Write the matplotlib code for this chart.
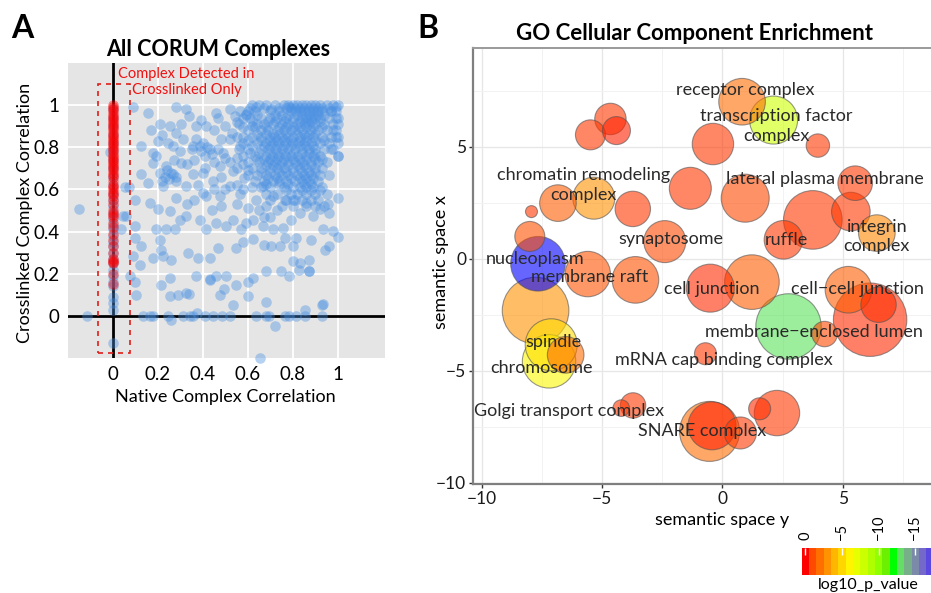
import numpy as np
import matplotlib.pyplot as plt
from matplotlib.colors import LinearSegmentedColormap, Normalize
from matplotlib.patches import Rectangle

plt.rcParams['font.family'] = ['Lato', 'DejaVu Sans']

# ---- panel A: complex correlations ----
# complexes seen in both native and crosslinked runs (native r, crosslinked r)
both_pts = [
    (-0.15, 0.505), (-0.115, 0.0), (0.133, 0.0), (0.163, 0.0), (0.178, 0.0), (0.244, 0.0),
    (0.26, -0.02), (0.311, 0.0), (0.344, 0.0), (0.356, 0.0), (0.375, 0.013), (0.41, 0.0),
    (0.444, 0.0), (0.486, 0.0), (0.519, 0.0), (0.637, 0.0), (0.681, 0.0), (0.693, 0.0),
    (0.763, 0.0), (0.782, 0.0), (0.815, 0.0), (0.856, 0.03), (0.856, 0.0), (0.93, 0.0),
    (0.719, -0.048), (0.655, -0.2), (0.93, 0.052), (0.935, 0.055), (0.533, 0.052),
    (0.681, 0.068), (0.252, 0.092), (0.289, 0.1), (0.326, 0.108), (0.34, 0.105),
    (0.104, 0.097), (0.474, 0.1), (0.6, 0.095), (0.496, 0.127), (0.43, 0.175), (0.432, 0.172),
    (0.548, 0.148), (0.215, 0.148), (0.252, 0.18), (0.37, 0.187), (0.459, 0.19), (0.504, 0.187),
    (0.6, 0.163), (0.622, 0.18), (0.681, 0.211), (0.748, 0.211), (0.785, 0.187), (0.827, 0.216),
    (0.874, 0.211), (0.872, 0.215), (0.074, 0.187), (0.1, 0.159), (0.089, 0.283), (0.119, 0.243),
    (0.178, 0.275), (0.222, 0.283), (0.259, 0.267), (0.333, 0.298), (0.378, 0.275), (0.43, 0.275),
    (0.467, 0.322), (0.548, 0.322), (0.578, 0.349), (0.622, 0.365), (0.674, 0.338), (0.704, 0.33),
    (0.741, 0.33), (0.8, 0.33), (0.8, 0.259), (0.83, 0.251), (0.874, 0.267), (0.941, 0.314),
    (0.963, 0.33), (1.0, 0.375), (0.933, 0.41), (0.978, 0.402), (0.815, 0.37), (0.763, 0.37),
    (0.881, 0.359), (0.212, 0.314), (0.126, 0.33), (0.207, 0.362), (0.1, 0.37), (0.037, 0.41),
    (0.044, 0.473), (0.059, 0.476), (0.096, 0.425), (0.1, 0.552), (0.163, 0.537), (0.2, 0.505),
    (0.252, 0.497), (0.193, 0.41), (0.237, 0.41), (0.274, 0.41), (0.296, 0.457), (0.326, 0.473),
    (0.385, 0.457), (0.415, 0.41), (0.46, 0.441), (0.504, 0.425), (0.533, 0.457), (0.57, 0.41),
    (0.593, 0.441), (0.622, 0.457), (0.667, 0.425), (0.711, 0.41), (0.756, 0.417), (0.793, 0.457),
    (0.83, 0.489), (0.889, 0.473), (0.919, 0.505), (0.956, 0.529), (1.0, 0.56), (0.963, 0.489),
    (0.859, 0.537), (0.8, 0.552), (0.763, 0.552), (0.055, 0.61), (0.07, 0.612), (-0.015, 0.779),
    (0.089, 0.989), (0.156, 0.965), (0.281, 0.989), (0.326, 0.981), (0.459, 0.965), (0.519, 0.984),
    (0.563, 0.973), (0.637, 0.989), (0.704, 0.981), (0.785, 0.989), (0.207, 0.91), (0.252, 0.902),
    (0.304, 0.91), (0.37, 0.902), (0.415, 0.902), (0.467, 0.94), (0.541, 0.949), (0.593, 0.956),
    (0.126, 0.806), (0.178, 0.775), (0.2, 0.83), (0.244, 0.822), (0.267, 0.806), (0.311, 0.838),
    (0.356, 0.806), (0.385, 0.806), (0.43, 0.79), (0.467, 0.79), (0.489, 0.771), (0.519, 0.838),
    (0.563, 0.806), (0.304, 0.727), (0.237, 0.711), (0.267, 0.671), (0.207, 0.679), (0.178, 0.727),
    (0.126, 0.671), (0.156, 0.632), (0.222, 0.616), (0.281, 0.64), (0.326, 0.616), (0.356, 0.671),
    (0.4, 0.679), (0.4, 0.584), (0.444, 0.64), (0.474, 0.711), (0.533, 0.687), (0.585, 0.656),
    (0.519, 0.616), (0.415, 0.568), (0.474, 0.568), (0.563, 0.576), (0.281, 0.56), (0.667, 0.616),
    (0.637, 0.552), (0.711, 0.568),
    (0.23, 0.66), (0.25, 0.65), (0.26, 0.68), (0.24, 0.69), (0.28, 0.66), (0.22, 0.64),
    (0.39, 0.78), (0.41, 0.76), (0.42, 0.8), (0.44, 0.77), (0.4, 0.82), (0.37, 0.84), (0.35, 0.79),
    (0.33, 0.72), (0.36, 0.74), (0.41, 0.7), (0.45, 0.73), (0.5, 0.75), (0.52, 0.73), (0.55, 0.75),
    (0.58, 0.72), (0.55, 0.7), (0.6, 0.69), (0.48, 0.66), (0.5, 0.6), (0.55, 0.62), (0.58, 0.6),
    (0.45, 0.6), (0.38, 0.62), (0.36, 0.55), (0.33, 0.53), (0.44, 0.5), (0.48, 0.52), (0.55, 0.53),
    (0.6, 0.51), (0.65, 0.5), (0.68, 0.52), (0.7, 0.47), (0.67, 0.47), (0.73, 0.5), (0.45, 0.88),
    (0.5, 0.9), (0.53, 0.87), (0.48, 0.84), (0.58, 0.85), (0.55, 0.92), (0.62, 0.9), (0.34, 0.95),
    (0.39, 0.93), (0.17, 0.88), (0.22, 0.86), (0.28, 0.87), (0.3, 0.78), (0.27, 0.74), (0.19, 0.76),
]

# the dense block of well-correlated complexes, read row by row
dense_rows = {
    1.0: [0.62, 0.65, 0.68, 0.72, 0.76, 0.78, 0.8, 0.82, 0.84, 0.86, 0.88, 0.9, 0.92, 0.95, 0.98, 1.0],
    0.985: [0.61, 0.67, 0.74, 0.77, 0.79, 0.81, 0.83, 0.85, 0.87, 0.89, 0.91, 0.93, 0.96],
    0.97: [0.6, 0.63, 0.7, 0.74, 0.79, 0.81, 0.83, 0.85, 0.87, 0.89, 0.91, 0.93, 0.97, 0.99],
    0.955: [0.59, 0.64, 0.72, 0.75, 0.78, 0.82, 0.84, 0.87, 0.89, 0.91, 0.94],
    0.94: [0.58, 0.61, 0.66, 0.7, 0.73, 0.77, 0.8, 0.84, 0.86, 0.88, 0.9, 0.92, 0.96, 1.0],
    0.925: [0.62, 0.69, 0.72, 0.76, 0.8, 0.83, 0.86, 0.88, 0.92],
    0.91: [0.56, 0.64, 0.67, 0.71, 0.75, 0.78, 0.82, 0.85, 0.87, 0.9, 0.94, 0.98],
    0.895: [0.58, 0.63, 0.68, 0.74, 0.77, 0.8, 0.83, 0.86, 0.89, 0.93],
    0.88: [0.6, 0.66, 0.69, 0.73, 0.76, 0.79, 0.81, 0.84, 0.88, 0.91, 0.95, 0.99],
    0.865: [0.64, 0.68, 0.71, 0.74, 0.77, 0.82, 0.85, 0.87, 0.9],
    0.85: [0.55, 0.62, 0.66, 0.7, 0.72, 0.75, 0.78, 0.8, 0.83, 0.86, 0.89, 0.93, 0.97, 1.0],
    0.835: [0.6, 0.66, 0.7, 0.73, 0.76, 0.79, 0.83, 0.86, 0.9, 0.94],
    0.82: [0.58, 0.64, 0.68, 0.71, 0.74, 0.77, 0.8, 0.82, 0.85, 0.88, 0.92, 0.96],
    0.805: [0.62, 0.67, 0.7, 0.73, 0.76, 0.79, 0.83, 0.86, 0.89],
    0.79: [0.56, 0.6, 0.66, 0.69, 0.72, 0.75, 0.78, 0.81, 0.84, 0.87, 0.9, 0.94, 0.98],
    0.775: [0.61, 0.65, 0.7, 0.73, 0.76, 0.8, 0.84, 0.87, 0.9],
    0.76: [0.58, 0.63, 0.68, 0.71, 0.74, 0.77, 0.79, 0.82, 0.86, 0.89, 0.92, 1.0],
    0.745: [0.64, 0.67, 0.7, 0.73, 0.76, 0.8, 0.83, 0.86, 0.9, 0.93],
    0.73: [0.6, 0.65, 0.69, 0.72, 0.75, 0.78, 0.81, 0.84, 0.88, 0.91, 0.95],
    0.715: [0.68, 0.71, 0.74, 0.78, 0.82, 0.85, 0.88],
    0.70: [0.62, 0.66, 0.7, 0.73, 0.76, 0.8, 0.83, 0.86, 0.9, 0.93],
    0.685: [0.66, 0.7, 0.74, 0.77, 0.8, 0.84, 0.87, 0.9],
    0.67: [0.6, 0.64, 0.68, 0.72, 0.75, 0.78, 0.82, 0.85, 0.88, 0.92, 0.96],
    0.655: [0.69, 0.73, 0.79, 0.83, 0.86, 0.89],
    0.64: [0.63, 0.67, 0.71, 0.74, 0.77, 0.81, 0.84, 0.87, 0.91],
    0.625: [0.68, 0.74, 0.78, 0.85, 0.88],
    0.61: [0.62, 0.66, 0.7, 0.76, 0.8, 0.83, 0.86, 0.89, 0.93],
    0.595: [0.77, 0.84, 0.88, 0.92],
    0.58: [0.68, 0.73, 0.79, 0.82, 0.86, 0.9, 0.95],
    0.55: [0.7, 0.77, 0.81, 0.84, 0.88, 0.91],
    0.52: [0.75, 0.8, 0.86, 0.9, 0.94],
}

# stack of complexes with native r close to 1
edge_x = [0.97, 0.99, 1.0, 0.98, 0.99, 1.0, 0.97, 1.0, 0.99]
edge_y = [0.97, 0.94, 0.91, 0.88, 0.85, 0.82, 0.79, 0.76, 0.99]

# complexes with native r of 0 but measurable crosslinked r
zero_native_y = [-0.13, 0.03, 0.06, 0.09, 0.14, 0.16, 0.19, 0.22, 0.25, 0.27, 0.3, 0.33, 0.35,
                 0.38, 0.41, 0.43, 0.46, 0.49, 0.52, 0.55, 0.58, 0.62, 0.66, 0.7, 0.74, 0.78,
                 0.82, 0.86, 0.9, 0.94, 0.98]

# complexes detected only after crosslinking
xl_only_y = [1.0, 0.99, 0.98, 0.97, 0.96, 0.95, 0.94, 0.93, 0.92, 0.91, 0.9, 0.89, 0.88, 0.87,
             0.86, 0.85, 0.84, 0.83, 0.82, 0.81, 0.8, 0.79, 0.78, 0.77, 0.76, 0.75, 0.74, 0.73,
             0.72, 0.71, 0.7, 0.69, 0.68, 0.67, 0.66, 0.64, 0.62, 0.61, 0.6, 0.59, 0.58, 0.57,
             0.55, 0.53, 0.5, 0.49, 0.48, 0.47, 0.44, 0.42, 0.39, 0.36, 0.33, 0.3, 0.27, 0.26,
             0.255, 0.25, 0.2, 0.15]

# ---- panel B: REVIGO summary of enriched GO cellular component terms ----
go_x = [0.82, 2.13, 3.97, -0.39, -4.65, -4.4, -5.48, -5.34, -6.83, -7.93, -3.72, -1.33, 0.95,
        5.52, 3.76, 5.34, 6.42, 2.54, -2.39, -8.0, -7.66, -5.59, -3.61, -0.5, 1.23, 5.24, 6.49,
        6.14, 2.75, -7.76, -7.11, -7.2, -6.51, 4.25, -0.7, -4.2, -3.71, -0.53, -0.43, 0.75,
        1.55, 2.27]
go_y = [7.02, 6.2, 5.06, 5.13, 6.25, 5.73, 5.54, 2.71, 2.49, 2.11, 2.23, 3.15, 2.71, 3.38,
        1.74, 2.11, 1.15, 0.85, 0.77, 1.0, -0.22, -0.68, -0.94, -1.31, -1.04, -1.38, -2.05,
        -2.72, -3.02, -2.31, -3.84, -4.58, -4.29, -3.36, -4.24, -6.67, -6.55, -7.71, -7.46,
        -7.78, -6.7, -6.89]
go_log10_p = [-2.0, -8.0, -0.8, -0.8, -0.8, -0.5, -0.8, -3.0, -1.5, -0.8, -0.8, -0.8, -1.0,
              -0.8, -0.8, -0.8, -2.7, -0.8, -1.0, -1.2, -19.0, -1.3, -1.2, -0.6, -1.5, -1.5,
              -0.6, -0.6, -12.9, -3.0, -5.3, -6.2, -2.0, -1.0, -0.8, -0.8, -0.8, -2.0, -0.4,
              -0.8, -0.6, -0.8]
go_log_size = [2.33, 2.4, 1.17, 2.07, 1.57, 1.4, 1.5, 2.1, 1.83, 0.6, 1.77, 2.1, 2.4, 1.73,
               2.93, 1.93, 1.83, 1.93, 2.1, 1.5, 2.73, 2.27, 2.33, 2.4, 2.73, 2.33, 1.77, 3.67,
               3.27, 3.33, 2.6, 2.67, 1.83, 1.27, 1.1, 0.83, 1.27, 3.0, 2.4, 1.6, 1.1, 2.27]

go_labels = ['receptor complex', 'transcription factor\ncomplex', 'chromatin remodeling\ncomplex',
             'lateral plasma membrane', 'integrin\ncomplex', 'synaptosome', 'ruffle', 'nucleoplasm',
             'membrane raft', 'cell junction', 'cell\u2212cell junction', 'membrane\u2212enclosed lumen',
             'spindle', 'chromosome', 'mRNA cap binding complex', 'Golgi transport complex',
             'SNARE complex']
label_x = [0.95, 2.24, -5.76, 4.25, 6.42, -2.12, 2.68, -7.79, -5.5, -0.46, 5.62, 3.82, -7.0,
           -7.51, 0.08, -6.38, -0.84]
label_y = [7.54, 5.95, 3.28, 3.56, 1.0, 0.88, 0.85, 0.0, -0.82, -1.35, -1.35, -3.27, -3.72,
           -4.88, -4.54, -6.79, -7.68]

# colour of the p-value scale at log10 p = 0, -1, -2, ... -19
pval_colours = ['#FF0000', '#FF4A00', '#FF6F00', '#FF9200', '#FFB600', '#FFD600', '#FFF500',
                '#E8FF00', '#CCFF00', '#B0FF00', '#90FF00', '#6AF000', '#00FF00', '#66DD66',
                '#77B088', '#7A8AA8', '#7468C8', '#5A48E0', '#3024F0', '#0000FF']
pval_min = -(len(pval_colours) - 1)

W, H = 931, 593
fig = plt.figure(figsize=(W / 100, H / 100), dpi=100)


def box(l, t, r, b):
    return [l / W, 1 - b / H, (r - l) / W, (b - t) / H]


# ---------------- panel A ----------------
ax = fig.add_axes(box(68, 63, 385, 358))
ax.set_facecolor('#E5E5E5')
for s in ax.spines.values():
    s.set_visible(False)
ax.set_xlim(-0.2, 1.21)
ax.set_ylim(-0.2, 1.2)
ticks = [0, 0.2, 0.4, 0.6, 0.8, 1]
tick_lbl = ['0', '0.2', '0.4', '0.6', '0.8', '1']
ax.set_xticks(ticks, tick_lbl)
ax.set_yticks(ticks, tick_lbl)
ax.tick_params(length=0, labelsize=13.5, pad=6, labelcolor='black')
ax.grid(True, color='white', lw=1.3)
ax.set_axisbelow(True)
ax.axhline(0, color='black', lw=2, zorder=1)
ax.axvline(0, color='black', lw=2, zorder=1)

bx = [p[0] for p in both_pts]
by = [p[1] for p in both_pts]
for yv, xs in dense_rows.items():
    bx += xs
    by += [yv] * len(xs)
bx += edge_x
by += edge_y
bx += [0.0] * len(zero_native_y)
by += zero_native_y
ax.scatter(bx, by, s=58, color='#4A90E2', alpha=0.4, linewidths=0, zorder=2, clip_on=False)
ax.scatter([0.0] * len(xl_only_y), xl_only_y, s=58, color='#FF0000', alpha=0.4,
           linewidths=0, zorder=3, clip_on=False)

ax.add_patch(Rectangle((-0.065, -0.174), 0.141, 1.274, fill=False, ec='#E0201A',
                       ls=(0, (3, 3)), lw=1.2, zorder=4))
ax.text(0.327, 1.11, 'Complex Detected in\nCrosslinked Only', color='#F01010', fontsize=10.5,
        ha='center', va='center', linespacing=1.25, zorder=5)

fig.text(218 / W, 1 - 49 / H, 'All CORUM Complexes', fontsize=15.5, fontweight='bold',
         ha='center', va='center')
fig.text(225 / W, 1 - 397 / H, 'Native Complex Correlation', fontsize=13, ha='center', va='center')
fig.text(25 / W, 1 - 213 / H, 'Crosslinked Complex Correlation', fontsize=13, ha='center',
         va='center', rotation=90)
fig.text(22 / W, 1 - 28 / H, 'A', fontsize=23, fontweight='bold', ha='center', va='center')

# ---------------- panel B ----------------
cmap = LinearSegmentedColormap.from_list('pval', pval_colours[::-1])
norm = Normalize(vmin=pval_min, vmax=0)

bx2 = fig.add_axes(box(473, 48, 931, 484))
bx2.set_xlim(-10.36, 8.67)
bx2.set_ylim(-10.06, 9.42)
bx2.set_xticks([-10, -5, 0, 5], ['\u221210', '\u22125', '0', '5'])
bx2.set_yticks([-10, -5, 0, 5], ['\u221210', '\u22125', '0', '5'])
bx2.set_xticks([-7.5, -2.5, 2.5, 7.5], minor=True)
bx2.set_yticks([-7.5, -2.5, 2.5, 7.5], minor=True)
bx2.tick_params(which='major', length=3, width=1, color='#333333', labelsize=12.5,
                labelcolor='#1a1a1a', pad=2)
bx2.tick_params(which='minor', length=0)
bx2.grid(True, which='major', color='#E6E6E6', lw=0.9)
bx2.grid(True, which='minor', color='#F2F2F2', lw=0.7)
bx2.set_axisbelow(True)
for side in ['left', 'bottom']:
    bx2.spines[side].set_color('#7F7F7F')
    bx2.spines[side].set_linewidth(1.6)
bx2.spines['top'].set_color('#9A9A9A')
bx2.spines['top'].set_linewidth(1.4)
bx2.spines['right'].set_visible(False)

# largest terms first so the small ones stay on top
order = np.argsort(go_log_size)[::-1]
gx = np.array(go_x)[order]
gy = np.array(go_y)[order]
gp = np.array(go_log10_p)[order]
gs = (np.array(go_log_size)[order] * 20 * 0.72) ** 2
bx2.scatter(gx, gy, s=gs, c=gp, cmap=cmap, norm=norm, alpha=0.6, edgecolors='#555555',
            linewidths=0.8, zorder=2)
for lbl, lx, ly in zip(go_labels, label_x, label_y):
    bx2.text(lx, ly, lbl, fontsize=13, color='#2a2a2a', ha='center', va='center',
             linespacing=1.3, zorder=3)

fig.text(694 / W, 1 - 34 / H, 'GO Cellular Component Enrichment', fontsize=16,
         fontweight='bold', ha='center', va='center')
fig.text(722 / W, 1 - 520 / H, 'semantic space y', fontsize=13, ha='center', va='center')
fig.text(441 / W, 1 - 262 / H, 'semantic space x', fontsize=13, ha='center', va='center',
         rotation=90)
fig.text(428 / W, 1 - 28 / H, 'B', fontsize=23, fontweight='bold', ha='center', va='center')

# p-value colour bar, one block per unit of log10 p (runs past the right edge)
cax = fig.add_axes(box(801.7, 548, 801.7 + 7.33 * len(pval_colours), 575))
centres = [0, -1, -2, -3, -4, -5, -6, -7, -8, -9, -10, -11, -12, -13, -14, -15, -16, -17, -18, -19]
edges = [c + 0.5 for c in centres] + [centres[-1] - 0.5]
steps = LinearSegmentedColormap.from_list('steps', pval_colours[::-1], N=len(pval_colours))
cax.pcolormesh(edges, [0, 1], [centres], cmap=steps, vmin=pval_min - 0.5, vmax=0.5)
cax.set_xlim(0.5, pval_min - 0.5)
cax.set_ylim(0, 1)
cax.set_yticks([])
cax.xaxis.tick_top()
cax.set_xticks([0, -5, -10, -15], ['0', '\u22125', '\u221210', '\u221215'], rotation=90)
cax.tick_params(axis='x', direction='in', length=5, width=1, color='white', labelsize=10.5,
                pad=6)
for s in cax.spines.values():
    s.set_visible(False)
fig.text(868 / W, 1 - 585 / H, 'log10_p_value', fontsize=11.5, ha='center', va='center')

fig.savefig('out.png', dpi=100)
